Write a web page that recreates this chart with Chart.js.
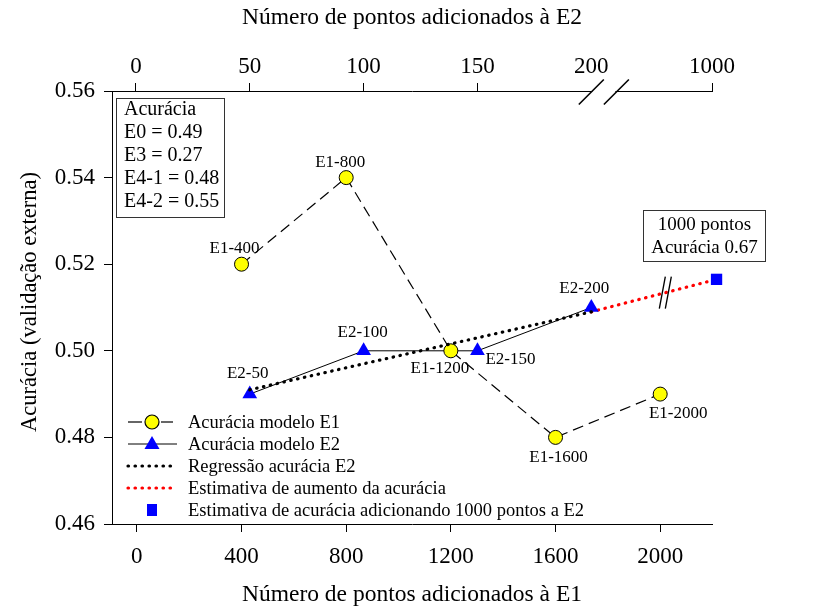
<!DOCTYPE html>
<html>
<head>
<meta charset="utf-8">
<title>Acurácia E1 / E2</title>
<script src="https://cdn.jsdelivr.net/npm/chart.js@4.4.1/dist/chart.umd.min.js"></script>
<style>
    html, body { margin: 0; padding: 0; background: #fff; }
    #wrap { width: 819px; height: 612px; }
</style>
</head>
<body>
<div id="wrap"><canvas id="accuracyChart" width="819" height="612"></canvas></div>
<script>
const SERIF = "'Liberation Serif', 'Times New Roman', serif";

// E1 model: points added (bottom axis) and external validation accuracy
const e1Points = [400, 800, 1200, 1600, 2000];
const e1Accuracy = [0.52, 0.54, 0.50, 0.48, 0.49];
const e1Names = ["E1-400", "E1-800", "E1-1200", "E1-1600", "E1-2000"];

// E2 model: points added (top axis)
const e2Points = [50, 100, 150, 200];
const e2Accuracy = [0.49, 0.50, 0.50, 0.51];
const e2Names = ["E2-50", "E2-100", "E2-150", "E2-200"];

// regression over E2 and its extension up to the 1000-point estimate
const regressionPoints = [50, 200];
const regressionAccuracy = [0.491, 0.509];
const projectionPoints = [200, 255];
const projectionAccuracy = [0.509, 0.5165];
const estimatePoints = [255];
const estimateAccuracy = [0.5165];

const bottomTicks = [0, 400, 800, 1200, 1600, 2000];
const topTicks = [0, 50, 100, 150, 200];
const topEndLabel = "1000";
const yTicks = [0.46, 0.48, 0.50, 0.52, 0.54, 0.56];

const summaryLines = ["Acurácia", "E0 = 0.49", "E3 = 0.27", "E4-1 = 0.48", "E4-2 = 0.55"];
const estimateNote = ["1000 pontos", "Acurácia 0.67"];
const legendNames = [
    "Acurácia modelo E1",
    "Acurácia modelo E2",
    "Regressão acurácia E2",
    "Estimativa de aumento da acurácia",
    "Estimativa de acurácia adicionando 1000 pontos a E2"
];

// label placement (pixel offsets from each marker)
const e1LabelOffsets = [[-7, -16], [-6, -15], [-11, 18], [3, 20], [18, 19]];
const e2LabelOffsets = [[-2, -21], [-1, -18], [33, 9], [-7, -19]];

const TOP_END = 253;          // where "1000" sits on the broken top axis
const topBreak = [200, 211];  // the // marks on the top axis
const lineBreakAt = 232.5;    // the // marks on the red line

const DOTS = [0.5, 6.5];
const DASH = [11, 6];

const xy = (xs, ys) => xs.map((x, i) => ({ x: x, y: ys[i] }));

function slash(ctx, x, y, dx, dy) {
    ctx.beginPath();
    ctx.moveTo(x - dx, y + dy);
    ctx.lineTo(x + dx, y - dy);
    ctx.stroke();
}

const decorations = {
    id: "decorations",
    afterDatasetsDraw(chart) {
        const ctx = chart.ctx;
        const area = chart.chartArea;
        const x2 = chart.scales.x2;

        ctx.save();
        ctx.fillStyle = "#000";
        ctx.textAlign = "center";
        ctx.textBaseline = "middle";
        ctx.font = "17px " + SERIF;

        chart.getDatasetMeta(0).data.forEach((pt, i) => {
            ctx.fillText(e1Names[i], pt.x + e1LabelOffsets[i][0], pt.y + e1LabelOffsets[i][1]);
        });
        chart.getDatasetMeta(1).data.forEach((pt, i) => {
            ctx.fillText(e2Names[i], pt.x + e2LabelOffsets[i][0], pt.y + e2LabelOffsets[i][1]);
        });

        // break on the red projection line
        const bx = x2.getPixelForValue(lineBreakAt);
        const t = (lineBreakAt - projectionPoints[0]) / (projectionPoints[1] - projectionPoints[0]);
        const by = chart.scales.y.getPixelForValue(projectionAccuracy[0] + t * (projectionAccuracy[1] - projectionAccuracy[0]));
        ctx.strokeStyle = "#000";
        ctx.lineWidth = 1.3;
        slash(ctx, bx - 3, by, 3, 16);
        slash(ctx, bx + 3, by, 3, 16);

        // break on the top axis
        const b0 = x2.getPixelForValue(topBreak[0]);
        const b1 = x2.getPixelForValue(topBreak[1]);
        ctx.fillStyle = "#fff";
        ctx.fillRect(b0 + 1, area.top - 2, b1 - b0 - 2, 4);
        ctx.lineWidth = 1.6;
        slash(ctx, b0, area.top + 1, 12.5, 12.5);
        slash(ctx, b1, area.top + 1, 12.5, 12.5);

        // summary box, upper left
        ctx.lineWidth = 1;
        ctx.strokeStyle = "#333";
        ctx.fillStyle = "#fff";
        ctx.fillRect(116.5, 98.5, 108, 119);
        ctx.strokeRect(116.5, 98.5, 108, 119);
        ctx.fillStyle = "#000";
        ctx.textAlign = "left";
        ctx.font = "20px " + SERIF;
        summaryLines.forEach((s, i) => ctx.fillText(s, 124, 110 + i * 23));

        // note for the 1000-point estimate
        ctx.fillStyle = "#fff";
        ctx.fillRect(643.5, 210.5, 122, 51);
        ctx.strokeRect(643.5, 210.5, 122, 51);
        ctx.fillStyle = "#000";
        ctx.textAlign = "center";
        ctx.font = "19px " + SERIF;
        estimateNote.forEach((s, i) => ctx.fillText(s, 704.5, 225 + i * 23));
        ctx.restore();
    },
    afterDraw(chart) {
        const ctx = chart.ctx;
        const area = chart.chartArea;
        const mid = (area.left + area.right) / 2;
        ctx.save();
        ctx.fillStyle = "#000";
        ctx.textAlign = "center";
        ctx.textBaseline = "middle";
        ctx.font = "23.5px " + SERIF;
        ctx.fillText("Número de pontos adicionados à E2", mid, 18);
        ctx.fillText("Número de pontos adicionados à E1", mid, 595);
        ctx.save();
        ctx.translate(30, 302);
        ctx.rotate(-Math.PI / 2);
        ctx.font = "22.5px " + SERIF;
        ctx.fillText("Acurácia (validação externa)", 0, 0);
        ctx.restore();

        // legend
        const rows = [422, 444, 466, 488, 510];
        const x0 = 128, x1 = 173, xm = 152;
        ctx.font = "18.5px " + SERIF;
        ctx.textAlign = "left";
        legendNames.forEach((name, i) => {
            const y = rows[i];
            ctx.save();
            if (i === 0) {
                ctx.strokeStyle = "#000";
                ctx.lineWidth = 1.2;
                ctx.beginPath(); ctx.moveTo(x0, y); ctx.lineTo(x0 + 14, y); ctx.stroke();
                ctx.beginPath(); ctx.moveTo(xm + 9, y); ctx.lineTo(x1, y); ctx.stroke();
                ctx.beginPath(); ctx.arc(xm, y, 7, 0, Math.PI * 2);
                ctx.fillStyle = "#ffff00"; ctx.fill(); ctx.stroke();
            } else if (i === 1) {
                ctx.strokeStyle = "#000";
                ctx.lineWidth = 1;
                ctx.beginPath(); ctx.moveTo(x0, y); ctx.lineTo(x1 + 4, y); ctx.stroke();
                ctx.beginPath();
                ctx.moveTo(xm, y - 8); ctx.lineTo(xm + 7.5, y + 5); ctx.lineTo(xm - 7.5, y + 5);
                ctx.closePath();
                ctx.fillStyle = "#0000ff"; ctx.fill();
            } else if (i === 2 || i === 3) {
                ctx.strokeStyle = i === 2 ? "#000" : "#ff0000";
                ctx.lineWidth = 3.2;
                ctx.lineCap = "round";
                ctx.setLineDash(DOTS);
                ctx.beginPath(); ctx.moveTo(x0, y); ctx.lineTo(x1 - 2, y); ctx.stroke();
            } else {
                ctx.fillStyle = "#0000ff";
                ctx.fillRect(xm - 5, y - 6, 10, 12);
            }
            ctx.restore();
            ctx.fillText(name, 188, y + 1);
        });
        ctx.restore();
    }
};

const tickFont = { family: SERIF, size: 23 };
const axisGrid = { drawOnChartArea: false, drawTicks: true, tickLength: 8, color: "#000", lineWidth: 1 };

new Chart(document.getElementById("accuracyChart"), {
    type: "scatter",
    data: {
        datasets: [
            {
                label: legendNames[0],
                data: xy(e1Points, e1Accuracy),
                xAxisID: "x",
                showLine: true,
                borderColor: "#000",
                borderWidth: 1.2,
                borderDash: DASH,
                pointStyle: "circle",
                pointRadius: 7,
                pointBackgroundColor: "#ffff00",
                pointBorderColor: "#000",
                pointBorderWidth: 1,
                order: 1
            },
            {
                label: legendNames[1],
                data: xy(e2Points, e2Accuracy),
                xAxisID: "x2",
                showLine: true,
                borderColor: "#000",
                borderWidth: 1,
                pointStyle: "triangle",
                pointRadius: 8.5,
                pointBackgroundColor: "#0000ff",
                pointBorderColor: "#0000ff",
                pointBorderWidth: 0,
                order: 2
            },
            {
                label: legendNames[2],
                data: xy(regressionPoints, regressionAccuracy),
                xAxisID: "x2",
                showLine: true,
                borderColor: "#000",
                borderWidth: 3.2,
                borderDash: DOTS,
                borderCapStyle: "round",
                pointRadius: 0,
                order: 0
            },
            {
                label: legendNames[3],
                data: xy(projectionPoints, projectionAccuracy),
                xAxisID: "x2",
                showLine: true,
                clip: false,
                borderColor: "#ff0000",
                borderWidth: 3.2,
                borderDash: DOTS,
                borderCapStyle: "round",
                pointRadius: 0,
                order: 3
            },
            {
                label: legendNames[4],
                data: xy(estimatePoints, estimateAccuracy),
                xAxisID: "x2",
                clip: false,
                pointStyle: "rect",
                pointRadius: 8,
                pointBackgroundColor: "#0000ff",
                pointBorderColor: "#0000ff",
                pointBorderWidth: 0,
                order: -1
            }
        ]
    },
    options: {
        responsive: false,
        animation: false,
        layout: { padding: { left: 0, right: 107, top: 0, bottom: 0 } },
        plugins: {
            legend: { display: false },
            tooltip: { enabled: false }
        },
        scales: {
            x: {
                type: "linear",
                position: "bottom",
                min: -95,
                max: 2198,
                afterBuildTicks: s => { s.ticks = bottomTicks.map(v => ({ value: v })); },
                afterFit: s => { s.height = 88; },
                grid: axisGrid,
                border: { display: true, color: "#000", width: 1 },
                ticks: { color: "#000", font: tickFont, padding: 11, maxRotation: 0, callback: v => String(v) }
            },
            x2: {
                type: "linear",
                position: "top",
                min: -10.5,
                max: TOP_END,
                afterBuildTicks: s => { s.ticks = topTicks.concat([TOP_END]).map(v => ({ value: v })); },
                afterFit: s => { s.height = 91; },
                grid: {
                    drawOnChartArea: false,
                    tickLength: 8,
                    lineWidth: 1,
                    color: c => (c.tick && c.tick.value === 200) ? "rgba(0,0,0,0)" : "#000"
                },
                border: { display: true, color: "#000", width: 1 },
                ticks: {
                    color: "#000",
                    font: tickFont,
                    padding: 2,
                    maxRotation: 0,
                    callback: v => v === TOP_END ? topEndLabel : String(v)
                }
            },
            y: {
                type: "linear",
                position: "left",
                min: 0.46,
                max: 0.56,
                afterBuildTicks: s => { s.ticks = yTicks.map(v => ({ value: v })); },
                afterFit: s => { s.width = 112; },
                grid: axisGrid,
                border: { display: true, color: "#000", width: 1 },
                ticks: { color: "#000", font: tickFont, padding: 9, callback: v => v.toFixed(2) }
            }
        }
    },
    plugins: [decorations]
});
</script>
</body>
</html>
